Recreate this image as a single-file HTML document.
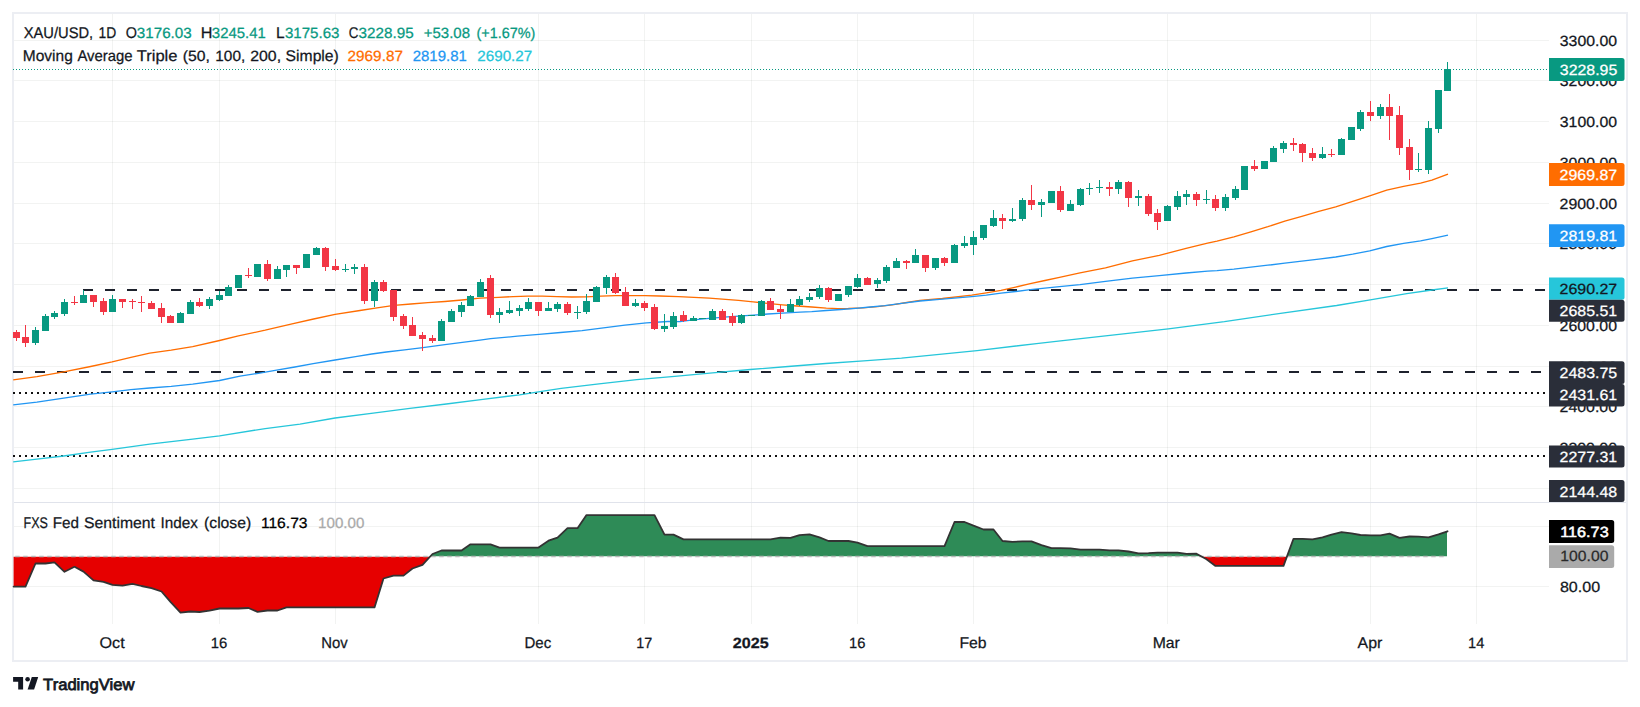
<!DOCTYPE html>
<html lang="en"><head><meta charset="utf-8"><title>XAU/USD 1D chart</title>
<style>html,body{margin:0;padding:0;background:#fff;overflow:hidden}svg{display:block}text{font-family:"Liberation Sans", sans-serif;font-size:16px;fill:#131722;stroke:#131722;stroke-width:.25px;text-rendering:geometricPrecision}.ax{font-size:14.6px}.w{fill:#fff}.tl{fill:#089981}.b{font-weight:bold}</style></head><body>
<svg width="1640" height="707" viewBox="0 0 1640 707">
<rect width="1640" height="707" fill="#fff"/>
<g shape-rendering="crispEdges" fill="#001008" fill-opacity=".052">
<rect x="14" y="40" width="1535" height="1"/>
<rect x="14" y="80" width="1535" height="1"/>
<rect x="14" y="121" width="1535" height="1"/>
<rect x="14" y="162" width="1535" height="1"/>
<rect x="14" y="203" width="1535" height="1"/>
<rect x="14" y="243" width="1535" height="1"/>
<rect x="14" y="284" width="1535" height="1"/>
<rect x="14" y="325" width="1535" height="1"/>
<rect x="14" y="366" width="1535" height="1"/>
<rect x="14" y="406" width="1535" height="1"/>
<rect x="14" y="447" width="1535" height="1"/>
<rect x="14" y="488" width="1535" height="1"/>
<rect x="14" y="526" width="1535" height="1"/>
<rect x="14" y="586" width="1535" height="1"/>
<rect x="112" y="14" width="1" height="610"/>
<rect x="219" y="14" width="1" height="610"/>
<rect x="335" y="14" width="1" height="610"/>
<rect x="538" y="14" width="1" height="610"/>
<rect x="644" y="14" width="1" height="610"/>
<rect x="751" y="14" width="1" height="610"/>
<rect x="857" y="14" width="1" height="610"/>
<rect x="973" y="14" width="1" height="610"/>
<rect x="1167" y="14" width="1" height="610"/>
<rect x="1370" y="14" width="1" height="610"/>
<rect x="1476" y="14" width="1" height="610"/>
</g>
<rect x="14" y="502" width="1612" height="1" fill="#e0e3eb" shape-rendering="crispEdges"/>
<rect x="13" y="13" width="1614" height="648" fill="none" stroke="#eceef3" stroke-width="2" shape-rendering="crispEdges"/>
<path d="M13.6 556.8 L13.6 586.6 L16.5 586.6 L25.5 586.6 L35.5 563.5 L45.5 563.5 L54.5 562.4 L64.5 571.8 L74.5 566.8 L83.5 571.6 L93.5 580.4 L103.5 581.8 L112.5 584.9 L122.5 585.7 L132.5 583.8 L141.5 586.0 L151.5 588.2 L161.5 591.5 L170.5 601.9 L180.5 612.6 L190.5 611.5 L199.5 612.0 L209.5 610.7 L219.5 608.5 L228.5 608.5 L238.5 608.5 L248.5 608.0 L257.5 611.8 L267.5 610.5 L277.5 610.5 L286.5 607.4 L296.5 607.4 L306.5 607.4 L316.5 607.4 L325.5 607.4 L335.5 607.4 L345.5 607.4 L354.5 607.4 L364.5 607.4 L374.5 607.4 L383.5 578.5 L393.5 575.6 L403.5 575.6 L412.5 568.5 L422.5 564.8 L429.9 556.8Z" fill="#e60000"/>
<path d="M1202.0 556.8 L1206.5 559.3 L1215.5 565.9 L1225.5 565.9 L1235.5 565.9 L1244.5 565.9 L1254.5 565.9 L1264.5 565.9 L1273.5 565.9 L1283.5 565.9 L1286.9 556.8Z" fill="#e60000"/>
<path d="M430.5 556.2 L432.5 554.0 L441.5 550.5 L451.5 550.5 L461.5 550.5 L470.5 544.3 L480.5 544.3 L490.5 544.3 L499.5 547.6 L509.5 547.6 L519.5 547.6 L528.5 547.6 L538.5 547.6 L548.5 540.7 L557.5 537.6 L567.5 528.2 L577.5 528.2 L586.5 515.1 L596.5 515.1 L606.5 515.1 L615.5 515.1 L625.5 515.1 L635.5 515.1 L644.5 515.1 L654.5 515.1 L664.5 534.6 L673.5 534.6 L683.5 539.4 L693.5 539.4 L702.5 539.4 L712.5 539.4 L722.5 539.4 L732.5 539.4 L741.5 539.4 L751.5 539.4 L761.5 539.4 L770.5 539.4 L780.5 537.6 L790.5 537.9 L799.5 535.2 L809.5 534.3 L819.5 537.4 L828.5 541.0 L838.5 541.0 L848.5 541.0 L857.5 542.7 L867.5 546.2 L877.5 546.2 L886.5 546.2 L896.5 546.2 L906.5 546.2 L915.5 546.2 L925.5 546.2 L935.5 546.2 L944.5 546.2 L954.5 522.0 L964.5 522.0 L973.5 525.7 L983.5 529.5 L993.5 529.5 L1002.5 541.0 L1012.5 541.8 L1022.5 541.4 L1031.5 541.4 L1041.5 545.2 L1051.5 548.2 L1060.5 548.2 L1070.5 548.4 L1080.5 549.6 L1089.5 549.6 L1099.5 549.6 L1109.5 550.4 L1118.5 550.4 L1128.5 551.5 L1138.5 553.3 L1148.5 553.1 L1157.5 552.7 L1167.5 552.6 L1177.5 552.6 L1186.5 553.8 L1196.5 553.7 L1201.0 556.2Z" fill="#2e8b57"/>
<path d="M1287.1 556.2 L1293.5 538.8 L1302.5 538.8 L1312.5 539.4 L1322.5 537.4 L1331.5 534.6 L1341.5 532.1 L1351.5 533.4 L1360.5 535.0 L1370.5 535.4 L1380.5 535.4 L1389.5 533.7 L1399.5 537.9 L1409.5 536.5 L1418.5 536.6 L1428.5 537.4 L1438.5 534.4 L1447.0 531.3 L1447.0 556.2Z" fill="#2e8b57"/>
<path d="M15.2 556.5H1446.7" stroke="#b8b8b8" stroke-width="1.3" stroke-dasharray="4.5 3.5" fill="none"/>
<path d="M13.6 586.6 L16.5 586.6 L25.5 586.6 L35.5 563.5 L45.5 563.5 L54.5 562.4 L64.5 571.8 L74.5 566.8 L83.5 571.6 L93.5 580.4 L103.5 581.8 L112.5 584.9 L122.5 585.7 L132.5 583.8 L141.5 586.0 L151.5 588.2 L161.5 591.5 L170.5 601.9 L180.5 612.6 L190.5 611.5 L199.5 612.0 L209.5 610.7 L219.5 608.5 L228.5 608.5 L238.5 608.5 L248.5 608.0 L257.5 611.8 L267.5 610.5 L277.5 610.5 L286.5 607.4 L296.5 607.4 L306.5 607.4 L316.5 607.4 L325.5 607.4 L335.5 607.4 L345.5 607.4 L354.5 607.4 L364.5 607.4 L374.5 607.4 L383.5 578.5 L393.5 575.6 L403.5 575.6 L412.5 568.5 L422.5 564.8 L432.5 554.0 L441.5 550.5 L451.5 550.5 L461.5 550.5 L470.5 544.3 L480.5 544.3 L490.5 544.3 L499.5 547.6 L509.5 547.6 L519.5 547.6 L528.5 547.6 L538.5 547.6 L548.5 540.7 L557.5 537.6 L567.5 528.2 L577.5 528.2 L586.5 515.1 L596.5 515.1 L606.5 515.1 L615.5 515.1 L625.5 515.1 L635.5 515.1 L644.5 515.1 L654.5 515.1 L664.5 534.6 L673.5 534.6 L683.5 539.4 L693.5 539.4 L702.5 539.4 L712.5 539.4 L722.5 539.4 L732.5 539.4 L741.5 539.4 L751.5 539.4 L761.5 539.4 L770.5 539.4 L780.5 537.6 L790.5 537.9 L799.5 535.2 L809.5 534.3 L819.5 537.4 L828.5 541.0 L838.5 541.0 L848.5 541.0 L857.5 542.7 L867.5 546.2 L877.5 546.2 L886.5 546.2 L896.5 546.2 L906.5 546.2 L915.5 546.2 L925.5 546.2 L935.5 546.2 L944.5 546.2 L954.5 522.0 L964.5 522.0 L973.5 525.7 L983.5 529.5 L993.5 529.5 L1002.5 541.0 L1012.5 541.8 L1022.5 541.4 L1031.5 541.4 L1041.5 545.2 L1051.5 548.2 L1060.5 548.2 L1070.5 548.4 L1080.5 549.6 L1089.5 549.6 L1099.5 549.6 L1109.5 550.4 L1118.5 550.4 L1128.5 551.5 L1138.5 553.3 L1148.5 553.1 L1157.5 552.7 L1167.5 552.6 L1177.5 552.6 L1186.5 553.8 L1196.5 553.7 L1206.5 559.3 L1215.5 565.9 L1225.5 565.9 L1235.5 565.9 L1244.5 565.9 L1254.5 565.9 L1264.5 565.9 L1273.5 565.9 L1283.5 565.9 L1293.5 538.8 L1302.5 538.8 L1312.5 539.4 L1322.5 537.4 L1331.5 534.6 L1341.5 532.1 L1351.5 533.4 L1360.5 535.0 L1370.5 535.4 L1380.5 535.4 L1389.5 533.7 L1399.5 537.9 L1409.5 536.5 L1418.5 536.6 L1428.5 537.4 L1438.5 534.4 L1447.5 531.3" fill="none" stroke="#333" stroke-width="1.8" stroke-linejoin="round" stroke-linecap="round"/>
<path d="M83 290H1549" stroke="#1e222d" stroke-width="2" stroke-dasharray="10 12" fill="none"/>
<path d="M13 372H1549" stroke="#1e222d" stroke-width="2" stroke-dasharray="10 12" fill="none"/>
<path d="M13 393H1549" stroke="#111" stroke-width="2" stroke-dasharray="2 4" fill="none"/>
<path d="M13 456H1549" stroke="#111" stroke-width="2" stroke-dasharray="2 4" fill="none"/>
<path d="M13.2 379.9 L36.9 376.7 L63.7 371.9 L90.6 366.5 L112.1 361.9 L130.9 357.4 L149.7 353.1 L171.2 350.1 L192.7 346.6 L219.6 340.5 L238.4 335.9 L265.2 330.2 L292.1 323.8 L313.6 319.0 L335.1 314.4 L360.0 310.5 L377.0 307.8 L394.0 305.4 L410.9 304.0 L427.9 302.7 L444.9 301.5 L461.9 300.0 L480.0 298.2 L498.5 297.3 L513.2 296.6 L527.8 296.1 L542.4 296.1 L557.1 296.6 L571.7 297.0 L586.3 296.9 L601.0 296.1 L615.6 295.6 L630.3 295.6 L644.9 295.6 L659.5 296.0 L678.5 296.6 L709.3 298.1 L738.5 300.4 L753.2 301.9 L767.8 303.4 L782.4 304.8 L797.1 306.0 L811.7 307.0 L826.3 308.1 L838.1 308.6 L848.3 308.5 L862.9 307.8 L877.6 306.6 L892.2 304.8 L906.8 302.5 L920.0 300.3 L942.4 298.5 L971.7 295.1 L986.3 292.9 L1001.0 290.4 L1015.6 287.1 L1030.3 283.7 L1044.9 280.5 L1059.5 277.3 L1080.0 272.9 L1105.5 267.9 L1132.4 260.9 L1159.3 255.3 L1186.1 248.3 L1207.6 243.2 L1217.0 241.1 L1233.9 236.9 L1250.9 231.8 L1267.9 226.7 L1284.8 221.1 L1301.8 216.3 L1318.8 211.4 L1335.7 206.9 L1352.7 201.3 L1369.7 195.9 L1386.7 190.2 L1403.6 186.3 L1420.6 183.2 L1431.9 180.1 L1448.0 174.1" fill="none" stroke="#ff6d00" stroke-width="1.35" stroke-linejoin="round"/>
<path d="M13.2 404.9 L36.9 402.2 L63.7 398.2 L90.6 394.2 L112.1 391.8 L130.9 389.6 L149.7 388.0 L171.2 386.4 L192.7 384.2 L219.6 380.5 L240.0 376.2 L258.3 373.3 L276.6 370.2 L294.9 367.0 L313.2 363.7 L335.1 360.0 L357.1 356.3 L371.7 354.0 L386.3 352.0 L404.6 349.8 L422.9 347.6 L444.9 344.6 L462.4 342.4 L480.0 340.2 L490.6 338.7 L517.5 336.2 L539.0 334.4 L560.5 332.5 L582.0 330.6 L603.4 327.9 L624.9 325.2 L646.4 322.8 L667.9 321.5 L680.0 321.6 L687.3 320.7 L698.3 319.3 L709.3 318.4 L727.5 316.9 L745.8 315.7 L753.2 315.2 L767.8 314.0 L782.4 313.1 L800.0 312.2 L811.7 311.6 L826.3 310.5 L841.0 309.5 L855.6 308.3 L870.3 307.0 L884.9 305.6 L899.5 303.7 L920.0 301.0 L942.4 299.2 L971.7 296.6 L986.3 295.1 L1001.0 293.2 L1015.6 291.5 L1030.3 289.7 L1044.9 288.1 L1059.5 286.6 L1080.0 284.6 L1105.5 281.3 L1132.4 278.1 L1159.3 275.7 L1186.1 273.0 L1207.6 271.1 L1217.0 270.6 L1233.9 269.1 L1250.9 267.2 L1267.9 265.2 L1284.8 263.2 L1301.8 261.2 L1318.8 259.2 L1335.7 257.0 L1352.7 254.2 L1369.7 250.8 L1386.7 246.5 L1403.6 243.4 L1420.6 240.9 L1431.9 238.6 L1448.0 235.2" fill="none" stroke="#2196f3" stroke-width="1.35" stroke-linejoin="round"/>
<path d="M13.2 461.9 L36.9 459.2 L63.7 456.0 L90.6 452.2 L112.1 449.3 L149.7 444.2 L192.7 439.1 L219.6 435.8 L265.2 428.6 L300.0 424.1 L335.1 418.0 L373.2 413.2 L409.8 408.3 L446.3 404.0 L482.9 399.3 L519.5 394.9 L540.0 391.7 L561.2 388.4 L599.0 383.9 L636.8 379.7 L674.7 376.3 L712.5 372.9 L750.3 369.5 L788.1 366.5 L825.9 363.5 L863.7 360.8 L901.5 358.2 L939.3 354.4 L977.1 350.6 L1036.5 343.6 L1056.1 341.4 L1112.2 335.2 L1168.3 328.8 L1224.4 321.7 L1280.5 313.3 L1336.6 305.5 L1370.3 299.9 L1406.7 293.7 L1432.0 290.0 L1448.0 287.8" fill="none" stroke="#26c6da" stroke-width="1.35" stroke-linejoin="round"/>
<path shape-rendering="crispEdges" fill="#089981" d="M35 327h1v18h-1zM32 330h7v13h-7zM45 314h1v17h-1zM42 316h7v15h-7zM54 311h1v8h-1zM51 313h7v4h-7zM64 299h1v17h-1zM61 302h7v12h-7zM83 290h1v13h-1zM80 295h7v8h-7zM112 295h1v17h-1zM109 299h7v13h-7zM180 312h1v11h-1zM177 313h7v10h-7zM190 300h1v14h-1zM187 302h7v12h-7zM209 297h1v12h-1zM206 299h7v7h-7zM219 291h1v10h-1zM216 295h7v5h-7zM228 285h1v11h-1zM225 287h7v9h-7zM238 275h1v13h-1zM235 275h7v13h-7zM257 264h1v13h-1zM254 264h7v13h-7zM277 266h1v13h-1zM274 269h7v10h-7zM286 265h1v12h-1zM283 265h7v5h-7zM306 254h1v14h-1zM303 254h7v14h-7zM316 247h1v8h-1zM313 248h7v7h-7zM345 264h1v8h-1zM342 269h7v1h-7zM354 264h1v10h-1zM351 267h7v2h-7zM374 280h1v27h-1zM371 282h7v19h-7zM441 319h1v22h-1zM438 321h7v20h-7zM451 309h1v13h-1zM448 311h7v11h-7zM461 302h1v15h-1zM458 305h7v7h-7zM470 295h1v11h-1zM467 296h7v10h-7zM480 279h1v18h-1zM477 282h7v15h-7zM499 308h1v15h-1zM496 312h7v3h-7zM509 301h1v13h-1zM506 310h7v3h-7zM519 305h1v11h-1zM516 308h7v3h-7zM528 298h1v13h-1zM525 302h7v7h-7zM548 302h1v9h-1zM545 308h7v3h-7zM557 302h1v10h-1zM554 304h7v5h-7zM577 306h1v13h-1zM574 312h7v1h-7zM586 294h1v20h-1zM583 301h7v11h-7zM596 286h1v16h-1zM593 287h7v15h-7zM606 275h1v19h-1zM603 277h7v11h-7zM635 299h1v8h-1zM632 303h7v3h-7zM664 314h1v18h-1zM661 326h7v3h-7zM673 312h1v17h-1zM670 316h7v11h-7zM693 316h1v5h-1zM690 318h7v3h-7zM702 318h1v1h-1zM699 318h7v1h-7zM712 309h1v11h-1zM709 311h7v9h-7zM741 314h1v10h-1zM738 315h7v8h-7zM751 315h1v1h-1zM748 315h7v1h-7zM761 300h1v16h-1zM758 301h7v15h-7zM790 299h1v13h-1zM787 304h7v8h-7zM799 296h1v10h-1zM796 299h7v6h-7zM809 293h1v9h-1zM806 297h7v3h-7zM819 285h1v14h-1zM816 288h7v9h-7zM838 294h1v7h-1zM835 294h7v7h-7zM848 286h1v11h-1zM845 286h7v9h-7zM857 274h1v14h-1zM854 278h7v9h-7zM877 278h1v10h-1zM874 280h7v4h-7zM886 265h1v18h-1zM883 267h7v14h-7zM896 258h1v10h-1zM893 261h7v7h-7zM915 249h1v14h-1zM912 255h7v8h-7zM935 258h1v12h-1zM932 258h7v10h-7zM954 244h1v19h-1zM951 245h7v18h-7zM964 236h1v12h-1zM961 243h7v3h-7zM973 231h1v24h-1zM970 237h7v8h-7zM983 225h1v15h-1zM980 225h7v13h-7zM993 210h1v17h-1zM990 218h7v8h-7zM1012 208h1v14h-1zM1009 219h7v2h-7zM1022 198h1v23h-1zM1019 200h7v19h-7zM1041 199h1v18h-1zM1038 202h7v3h-7zM1051 191h1v12h-1zM1048 191h7v12h-7zM1070 200h1v11h-1zM1067 204h7v7h-7zM1080 188h1v18h-1zM1077 189h7v16h-7zM1089 183h1v12h-1zM1086 188h7v1h-7zM1099 180h1v13h-1zM1096 187h7v1h-7zM1118 180h1v14h-1zM1115 182h7v7h-7zM1138 190h1v16h-1zM1135 196h7v2h-7zM1167 205h1v16h-1zM1164 206h7v15h-7zM1177 191h1v19h-1zM1174 196h7v11h-7zM1186 190h1v15h-1zM1183 194h7v3h-7zM1206 190h1v14h-1zM1203 199h7v1h-7zM1225 194h1v17h-1zM1222 197h7v11h-7zM1235 186h1v14h-1zM1232 189h7v9h-7zM1244 166h1v24h-1zM1241 166h7v24h-7zM1264 161h1v8h-1zM1261 161h7v8h-7zM1273 146h1v16h-1zM1270 148h7v14h-7zM1283 141h1v12h-1zM1280 143h7v6h-7zM1322 147h1v12h-1zM1319 154h7v4h-7zM1341 138h1v17h-1zM1338 139h7v16h-7zM1351 127h1v13h-1zM1348 127h7v13h-7zM1360 110h1v21h-1zM1357 112h7v17h-7zM1380 104h1v15h-1zM1377 107h7v9h-7zM1418 153h1v19h-1zM1415 169h7v1h-7zM1428 121h1v53h-1zM1425 128h7v42h-7zM1438 90h1v43h-1zM1435 90h7v39h-7zM1447 62h1v29h-1zM1444 69h7v22h-7z"/>
<path shape-rendering="crispEdges" fill="#f23645" d="M16 330h1v11h-1zM13 332h7v6h-7zM25 325h1v22h-1zM22 337h7v6h-7zM74 296h1v9h-1zM71 302h7v1h-7zM93 295h1v12h-1zM90 295h7v7h-7zM103 298h1v17h-1zM100 301h7v11h-7zM122 299h1v9h-1zM119 299h7v3h-7zM132 299h1v10h-1zM129 301h7v1h-7zM141 296h1v16h-1zM138 302h7v1h-7zM151 301h1v8h-1zM148 303h7v6h-7zM161 303h1v20h-1zM158 308h7v9h-7zM170 315h1v8h-1zM167 316h7v7h-7zM199 298h1v9h-1zM196 302h7v4h-7zM248 268h1v10h-1zM245 275h7v1h-7zM267 260h1v21h-1zM264 264h7v15h-7zM296 265h1v9h-1zM293 265h7v3h-7zM325 247h1v24h-1zM322 248h7v19h-7zM335 259h1v12h-1zM332 266h7v4h-7zM364 264h1v40h-1zM361 267h7v34h-7zM383 280h1v12h-1zM380 282h7v9h-7zM393 290h1v31h-1zM390 290h7v27h-7zM403 314h1v15h-1zM400 316h7v10h-7zM412 317h1v19h-1zM409 325h7v11h-7zM422 332h1v19h-1zM419 335h7v4h-7zM432 335h1v8h-1zM429 338h7v3h-7zM490 275h1v43h-1zM487 278h7v37h-7zM538 302h1v14h-1zM535 302h7v9h-7zM567 302h1v13h-1zM564 304h7v9h-7zM615 273h1v21h-1zM612 277h7v16h-7zM625 287h1v19h-1zM622 292h7v14h-7zM644 301h1v10h-1zM641 303h7v5h-7zM654 304h1v26h-1zM651 307h7v22h-7zM683 311h1v11h-1zM680 315h7v6h-7zM722 309h1v11h-1zM719 311h7v9h-7zM732 313h1v13h-1zM729 316h7v7h-7zM770 298h1v12h-1zM767 301h7v9h-7zM780 305h1v14h-1zM777 309h7v3h-7zM828 287h1v15h-1zM825 288h7v12h-7zM867 277h1v8h-1zM864 278h7v7h-7zM906 260h1v9h-1zM903 261h7v2h-7zM925 255h1v17h-1zM922 255h7v13h-7zM944 257h1v9h-1zM941 258h7v5h-7zM1002 214h1v15h-1zM999 218h7v3h-7zM1031 185h1v25h-1zM1028 200h7v5h-7zM1060 186h1v26h-1zM1057 191h7v19h-7zM1109 182h1v14h-1zM1106 187h7v2h-7zM1128 181h1v26h-1zM1125 182h7v16h-7zM1148 194h1v22h-1zM1145 196h7v18h-7zM1157 209h1v21h-1zM1154 213h7v9h-7zM1196 192h1v14h-1zM1193 194h7v6h-7zM1215 195h1v16h-1zM1212 199h7v9h-7zM1254 160h1v11h-1zM1251 166h7v3h-7zM1293 138h1v13h-1zM1290 143h7v2h-7zM1302 143h1v19h-1zM1299 144h7v9h-7zM1312 148h1v13h-1zM1309 153h7v5h-7zM1331 149h1v8h-1zM1328 154h7v1h-7zM1370 101h1v20h-1zM1367 112h7v4h-7zM1389 94h1v46h-1zM1386 107h7v9h-7zM1399 106h1v49h-1zM1396 115h7v33h-7zM1409 139h1v41h-1zM1406 147h7v23h-7z"/>
<path d="M13 69.5H1549" stroke="#089981" stroke-width="1" stroke-dasharray="1 2" fill="none" shape-rendering="crispEdges"/>
<text x="1559.81" y="45.50" textLength="57.19" lengthAdjust="spacingAndGlyphs" style="font-size:14.8px;">3300.00</text>
<text x="1559.81" y="86.25" textLength="57.19" lengthAdjust="spacingAndGlyphs" style="font-size:14.8px;">3200.00</text>
<text x="1559.81" y="127.00" textLength="57.19" lengthAdjust="spacingAndGlyphs" style="font-size:14.8px;">3100.00</text>
<text x="1559.81" y="167.75" textLength="57.19" lengthAdjust="spacingAndGlyphs" style="font-size:14.8px;">3000.00</text>
<text x="1559.56" y="208.50" textLength="57.44" lengthAdjust="spacingAndGlyphs" style="font-size:14.8px;">2900.00</text>
<text x="1559.56" y="249.25" textLength="57.44" lengthAdjust="spacingAndGlyphs" style="font-size:14.8px;">2800.00</text>
<text x="1559.56" y="290.00" textLength="57.44" lengthAdjust="spacingAndGlyphs" style="font-size:14.8px;">2700.00</text>
<text x="1559.56" y="330.75" textLength="57.44" lengthAdjust="spacingAndGlyphs" style="font-size:14.8px;">2600.00</text>
<text x="1559.56" y="371.50" textLength="57.44" lengthAdjust="spacingAndGlyphs" style="font-size:14.8px;">2500.00</text>
<text x="1559.56" y="412.25" textLength="57.44" lengthAdjust="spacingAndGlyphs" style="font-size:14.8px;">2400.00</text>
<text x="1559.56" y="453.00" textLength="57.44" lengthAdjust="spacingAndGlyphs" style="font-size:14.8px;">2300.00</text>
<text x="1559.56" y="493.75" textLength="57.44" lengthAdjust="spacingAndGlyphs" style="font-size:14.8px;">2200.00</text>
<text x="1559.90" y="591.50" textLength="40.20" lengthAdjust="spacingAndGlyphs" style="font-size:14.8px;">80.00</text>
<path d="M1549 58.1H1622.0a2.5 2.5 0 0 1 2.5 2.5V78.4a2.5 2.5 0 0 1 -2.5 2.5H1549Z" fill="#089981"/>
<path d="M1549 163.1H1622.0a2.5 2.5 0 0 1 2.5 2.5V183.4a2.5 2.5 0 0 1 -2.5 2.5H1549Z" fill="#ff6d00"/>
<path d="M1549 224.2H1622.0a2.5 2.5 0 0 1 2.5 2.5V244.5a2.5 2.5 0 0 1 -2.5 2.5H1549Z" fill="#2196f3"/>
<path d="M1549 277.4H1622.0a2.5 2.5 0 0 1 2.5 2.5V297.3a2.5 2.5 0 0 1 -2.5 2.5H1549Z" fill="#26c6da"/>
<path d="M1549 299.8H1622.0a2.5 2.5 0 0 1 2.5 2.5V319.3a2.5 2.5 0 0 1 -2.5 2.5H1549Z" fill="#2a2e39"/>
<path d="M1549 361.2H1622.0a2.5 2.5 0 0 1 2.5 2.5V381.5a2.5 2.5 0 0 1 -2.5 2.5H1549Z" fill="#2a2e39"/>
<path d="M1549 384.0H1622.0a2.5 2.5 0 0 1 2.5 2.5V403.9a2.5 2.5 0 0 1 -2.5 2.5H1549Z" fill="#2a2e39"/>
<path d="M1549 445.4H1622.0a2.5 2.5 0 0 1 2.5 2.5V465.0a2.5 2.5 0 0 1 -2.5 2.5H1549Z" fill="#2a2e39"/>
<path d="M1549 480.0H1622.0a2.5 2.5 0 0 1 2.5 2.5V499.5a2.5 2.5 0 0 1 -2.5 2.5H1549Z" fill="#2a2e39"/>
<path d="M1549 520.1H1611.7a2.5 2.5 0 0 1 2.5 2.5V540.4a2.5 2.5 0 0 1 -2.5 2.5H1549Z" fill="#000"/>
<path d="M1549 545.2H1611.7a2.5 2.5 0 0 1 2.5 2.5V565.5a2.5 2.5 0 0 1 -2.5 2.5H1549Z" fill="#aaaaaa"/>
<text x="1559.80" y="74.60" textLength="57.44" lengthAdjust="spacingAndGlyphs" style="font-size:14.8px;fill:#fff;stroke:#fff;">3228.95</text>
<text x="1559.55" y="179.60" textLength="57.70" lengthAdjust="spacingAndGlyphs" style="font-size:14.8px;fill:#fff;stroke:#fff;">2969.87</text>
<text x="1559.55" y="240.70" textLength="57.70" lengthAdjust="spacingAndGlyphs" style="font-size:14.8px;fill:#fff;stroke:#fff;">2819.81</text>
<text x="1559.55" y="293.70" textLength="57.70" lengthAdjust="spacingAndGlyphs" style="font-size:14.8px;fill:#131722;stroke:#131722;">2690.27</text>
<text x="1559.55" y="315.90" textLength="57.70" lengthAdjust="spacingAndGlyphs" style="font-size:14.8px;fill:#fff;stroke:#fff;">2685.51</text>
<text x="1559.55" y="377.70" textLength="57.70" lengthAdjust="spacingAndGlyphs" style="font-size:14.8px;fill:#fff;stroke:#fff;">2483.75</text>
<text x="1559.55" y="400.30" textLength="57.70" lengthAdjust="spacingAndGlyphs" style="font-size:14.8px;fill:#fff;stroke:#fff;">2431.61</text>
<text x="1559.55" y="461.55" textLength="57.70" lengthAdjust="spacingAndGlyphs" style="font-size:14.8px;fill:#fff;stroke:#fff;">2277.31</text>
<text x="1559.55" y="496.80" textLength="57.70" lengthAdjust="spacingAndGlyphs" style="font-size:14.8px;fill:#fff;stroke:#fff;">2144.48</text>
<text x="1560.29" y="536.90" textLength="48.37" lengthAdjust="spacingAndGlyphs" style="font-size:14.8px;fill:#fff;stroke:#fff;stroke-width:0.5px;">116.73</text>
<text x="1560.32" y="561.30" textLength="48.07" lengthAdjust="spacingAndGlyphs" style="font-size:14.8px;fill:#2a2a2a;stroke:#2a2a2a;">100.00</text>
<text y="37.70"><tspan x="23.77" textLength="69.43" lengthAdjust="spacingAndGlyphs" style="font-size:15.5px;">XAU/USD,</tspan> <tspan x="98.53" textLength="17.75" lengthAdjust="spacingAndGlyphs" style="font-size:15.5px;">1D</tspan> <tspan x="125.73" textLength="11.20" lengthAdjust="spacingAndGlyphs" style="font-size:15.5px;">O</tspan><tspan x="136.83" textLength="54.89" lengthAdjust="spacingAndGlyphs" style="font-size:14.8px;fill:#089981;stroke:#089981;">3176.03</tspan> <tspan x="200.84" textLength="11.68" lengthAdjust="spacingAndGlyphs" style="font-size:15.5px;">H</tspan><tspan x="211.83" textLength="53.97" lengthAdjust="spacingAndGlyphs" style="font-size:14.8px;fill:#089981;stroke:#089981;">3245.41</tspan> <tspan x="276.09" textLength="8.59" lengthAdjust="spacingAndGlyphs" style="font-size:15.5px;">L</tspan><tspan x="284.93" textLength="54.48" lengthAdjust="spacingAndGlyphs" style="font-size:14.8px;fill:#089981;stroke:#089981;">3175.63</tspan> <tspan x="348.78" textLength="9.58" lengthAdjust="spacingAndGlyphs" style="font-size:15.5px;">C</tspan><tspan x="358.62" textLength="55.09" lengthAdjust="spacingAndGlyphs" style="font-size:14.8px;fill:#089981;stroke:#089981;">3228.95</tspan> <tspan x="423.80" textLength="46.21" lengthAdjust="spacingAndGlyphs" style="font-size:14.8px;fill:#089981;stroke:#089981;">+53.08</tspan> <tspan x="476.42" textLength="58.92" lengthAdjust="spacingAndGlyphs" style="font-size:14.8px;fill:#089981;stroke:#089981;">(+1.67%)</tspan>
</text>
<text y="60.90"><tspan x="22.79" textLength="49.98" lengthAdjust="spacingAndGlyphs" style="font-size:15.5px;">Moving</tspan> <tspan x="77.40" textLength="55.10" lengthAdjust="spacingAndGlyphs" style="font-size:15.5px;">Average</tspan> <tspan x="136.74" textLength="40.73" lengthAdjust="spacingAndGlyphs" style="font-size:15.5px;">Triple</tspan> <tspan x="182.66" textLength="27.11" lengthAdjust="spacingAndGlyphs" style="font-size:14.8px;">(50,</tspan> <tspan x="215.34" textLength="29.91" lengthAdjust="spacingAndGlyphs" style="font-size:14.8px;">100,</tspan> <tspan x="250.26" textLength="30.83" lengthAdjust="spacingAndGlyphs" style="font-size:14.8px;">200,</tspan> <tspan x="285.61" textLength="53.20" lengthAdjust="spacingAndGlyphs" style="font-size:15.5px;">Simple)</tspan> <tspan x="347.58" textLength="55.34" lengthAdjust="spacingAndGlyphs" style="font-size:14.8px;fill:#ff6d00;stroke:#ff6d00;">2969.87</tspan> <tspan x="412.70" textLength="54.21" lengthAdjust="spacingAndGlyphs" style="font-size:14.8px;fill:#2196f3;stroke:#2196f3;">2819.81</tspan> <tspan x="477.29" textLength="54.93" lengthAdjust="spacingAndGlyphs" style="font-size:14.8px;fill:#26c6da;stroke:#26c6da;">2690.27</tspan>
</text>
<text y="527.90"><tspan x="23.62" textLength="24.30" lengthAdjust="spacingAndGlyphs" style="font-size:15.5px;">FXS</tspan> <tspan x="52.81" textLength="26.25" lengthAdjust="spacingAndGlyphs" style="font-size:15.5px;">Fed</tspan> <tspan x="84.01" textLength="70.94" lengthAdjust="spacingAndGlyphs" style="font-size:15.5px;">Sentiment</tspan> <tspan x="160.41" textLength="37.39" lengthAdjust="spacingAndGlyphs" style="font-size:15.5px;">Index</tspan> <tspan x="204.06" textLength="47.15" lengthAdjust="spacingAndGlyphs" style="font-size:15.5px;">(close)</tspan> <tspan x="260.92" textLength="46.61" lengthAdjust="spacingAndGlyphs" style="font-size:14.8px;fill:#000;stroke:#000;">116.73</tspan> <tspan x="318.05" textLength="46.32" lengthAdjust="spacingAndGlyphs" style="font-size:14.8px;fill:#aaaaaa;stroke:#aaaaaa;">100.00</tspan>
</text>
<text x="99.44" y="647.80" textLength="25.20" lengthAdjust="spacingAndGlyphs" style="font-size:15.5px;">Oct</text>
<text x="210.67" y="647.80" textLength="16.53" lengthAdjust="spacingAndGlyphs" style="font-size:14.8px;">16</text>
<text x="321.34" y="647.80" textLength="26.46" lengthAdjust="spacingAndGlyphs" style="font-size:15.5px;">Nov</text>
<text x="524.53" y="647.80" textLength="26.71" lengthAdjust="spacingAndGlyphs" style="font-size:15.5px;">Dec</text>
<text x="636.30" y="647.80" textLength="15.98" lengthAdjust="spacingAndGlyphs" style="font-size:14.8px;">17</text>
<text x="732.80" y="647.80" textLength="35.91" lengthAdjust="spacingAndGlyphs" style="font-size:14.8px;font-weight:bold;">2025</text>
<text x="848.98" y="647.80" textLength="16.42" lengthAdjust="spacingAndGlyphs" style="font-size:14.8px;">16</text>
<text x="959.47" y="647.80" textLength="27.17" lengthAdjust="spacingAndGlyphs" style="font-size:15.5px;">Feb</text>
<text x="1152.67" y="647.80" textLength="27.21" lengthAdjust="spacingAndGlyphs" style="font-size:15.5px;">Mar</text>
<text x="1357.60" y="647.80" textLength="24.78" lengthAdjust="spacingAndGlyphs" style="font-size:15.5px;">Apr</text>
<text x="1468.09" y="647.80" textLength="16.28" lengthAdjust="spacingAndGlyphs" style="font-size:14.8px;">14</text>
<text x="43.14" y="689.60" textLength="91.26" lengthAdjust="spacingAndGlyphs" style="font-size:16.2px;stroke-width:0.75px;">TradingView</text>
<g fill="#131722"><path d="M13.1 677.1H23.1V689.6H18.2V681.7H13.1Z"/><circle cx="27.6" cy="679.3" r="2.3"/><path d="M31.8 677.1H38.2L34.1 689.6H27.6Z"/></g>
</svg></body></html>
